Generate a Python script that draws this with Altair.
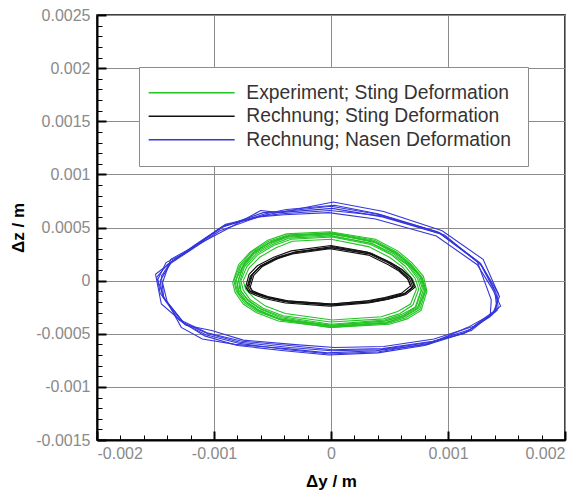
import altair as alt
import pandas as pd

# ---- data (values in mm, converted to m below) ----
SERIES = ["Experiment; Sting Deformation", "Rechnung; Sting Deformation", "Rechnung; Nasen Deformation"]
COLORS = ["#22c322", "#111111", "#3535dc"]

# Rechnung; Nasen Deformation (blue), several cycles
blue_x = [
    [-1.49,-1.40,-1.21,-0.92,-0.58,-0.41, 0.00, 0.42, 0.93, 1.27, 1.40, 1.42, 1.19, 0.85, 0.42, 0.00,-0.35,-0.78,-1.05,-1.26,-1.42],
    [-1.46,-1.36,-1.17,-0.90,-0.55,-0.35, 0.02, 0.45, 0.95, 1.30, 1.44, 1.38, 1.15, 0.80, 0.40,-0.02,-0.40,-0.80,-1.08,-1.30,-1.44],
    [-1.50,-1.43,-1.25,-0.95,-0.62,-0.40,-0.02, 0.38, 0.90, 1.25, 1.38, 1.45, 1.22, 0.88, 0.45, 0.03,-0.33,-0.75,-1.02,-1.24,-1.45],
    [-1.44,-1.37,-1.19,-0.88,-0.60,-0.44, 0.01, 0.44, 0.97, 1.29, 1.43, 1.40, 1.17, 0.83, 0.38,-0.03,-0.38,-0.82,-1.10,-1.28,-1.40],
    [-1.48,-1.41,-1.23,-0.94,-0.56,-0.38, 0.03, 0.40, 0.91, 1.25, 1.37, 1.36, 1.13, 0.87, 0.44, 0.01,-0.36,-0.76,-1.06,-1.27,-1.46],
    [-1.45,-1.38,-1.20,-0.91,-0.57,-0.42,-0.01, 0.43, 0.94, 1.28, 1.41, 1.43, 1.20, 0.84, 0.41,-0.01,-0.37,-0.79,-1.07,-1.25,-1.43],
]
blue_y = [
    [ 0.03, 0.15, 0.29, 0.51, 0.64, 0.65, 0.70, 0.62, 0.45, 0.17,-0.10,-0.28,-0.46,-0.58,-0.65,-0.66,-0.63,-0.58,-0.50,-0.40,-0.18],
    [ 0.00, 0.18, 0.33, 0.53, 0.62, 0.66, 0.74, 0.65, 0.47, 0.20,-0.15,-0.32,-0.49,-0.61,-0.68,-0.70,-0.66,-0.61,-0.52,-0.37,-0.15],
    [ 0.06, 0.12, 0.25, 0.47, 0.60, 0.62, 0.64, 0.58, 0.42, 0.15,-0.08,-0.24,-0.43,-0.55,-0.62,-0.63,-0.60,-0.56,-0.47,-0.42,-0.22],
    [-0.02, 0.20, 0.31, 0.49, 0.66, 0.64, 0.68, 0.60, 0.43, 0.14,-0.12,-0.30,-0.44,-0.60,-0.66,-0.68,-0.64,-0.60,-0.55,-0.44,-0.20],
    [ 0.01, 0.17, 0.27, 0.50, 0.63, 0.67, 0.71, 0.63, 0.46, 0.18,-0.18,-0.34,-0.50,-0.57,-0.64,-0.65,-0.61,-0.57,-0.49,-0.38,-0.12],
    [ 0.04, 0.16, 0.30, 0.52, 0.61, 0.63, 0.66, 0.61, 0.44, 0.16,-0.11,-0.26,-0.47,-0.59,-0.67,-0.69,-0.65,-0.59,-0.51,-0.41,-0.16],
]

# Experiment; Sting Deformation (green)
green_x = [
    [-0.82,-0.77,-0.67,-0.52,-0.36, 0.00, 0.36, 0.55, 0.67, 0.77, 0.80, 0.75, 0.63, 0.48, 0.00,-0.44,-0.62,-0.73,-0.80],
    [-0.77,-0.72,-0.63,-0.49,-0.34, 0.01, 0.34, 0.52, 0.63, 0.72, 0.75, 0.70, 0.59, 0.45, 0.00,-0.41,-0.58,-0.69,-0.75],
    [-0.84,-0.79,-0.69,-0.54,-0.38,-0.01, 0.38, 0.57, 0.69, 0.79, 0.82, 0.77, 0.65, 0.50, 0.01,-0.45,-0.64,-0.75,-0.82],
    [-0.79,-0.74,-0.65,-0.50,-0.35, 0.02, 0.37, 0.56, 0.68, 0.78, 0.81, 0.74, 0.61, 0.46,-0.01,-0.43,-0.60,-0.71,-0.78],
    [-0.80,-0.76,-0.66,-0.51,-0.37,-0.02, 0.35, 0.54, 0.66, 0.75, 0.78, 0.73, 0.62, 0.47, 0.02,-0.42,-0.61,-0.72,-0.79],
    [-0.75,-0.70,-0.61,-0.47,-0.33, 0.00, 0.32, 0.50, 0.61, 0.70, 0.73, 0.68, 0.57, 0.43, 0.01,-0.39,-0.56,-0.66,-0.73],
    [-0.83,-0.78,-0.68,-0.53,-0.37, 0.01, 0.37, 0.56, 0.68, 0.78, 0.81, 0.76, 0.64, 0.49, 0.00,-0.45,-0.63,-0.74,-0.81],
    [-0.78,-0.74,-0.64,-0.50,-0.36, 0.00, 0.35, 0.53, 0.65, 0.74, 0.77, 0.72, 0.60, 0.46, 0.00,-0.42,-0.59,-0.70,-0.77],
    [-0.81,-0.75,-0.66,-0.52,-0.35,-0.01, 0.36, 0.55, 0.66, 0.76, 0.79, 0.74, 0.62, 0.47,-0.01,-0.43,-0.61,-0.72,-0.79],
]
green_y = [
    [-0.01, 0.14, 0.26, 0.36, 0.42, 0.45, 0.37, 0.26, 0.16, 0.03,-0.09,-0.26,-0.34,-0.39,-0.43,-0.36,-0.28,-0.20,-0.10],
    [ 0.00, 0.13, 0.24, 0.33, 0.39, 0.41, 0.34, 0.24, 0.14, 0.02,-0.08,-0.23,-0.31,-0.36,-0.39,-0.33,-0.26,-0.18,-0.09],
    [-0.02, 0.15, 0.27, 0.38, 0.44, 0.46, 0.39, 0.28, 0.17, 0.04,-0.10,-0.28,-0.36,-0.41,-0.44,-0.38,-0.30,-0.22,-0.11],
    [ 0.01, 0.16, 0.28, 0.37, 0.43, 0.44, 0.36, 0.25, 0.15, 0.02,-0.10,-0.25,-0.33,-0.38,-0.42,-0.35,-0.27,-0.19,-0.08],
    [-0.03, 0.12, 0.25, 0.35, 0.41, 0.43, 0.35, 0.25, 0.15, 0.03,-0.07,-0.24,-0.33,-0.38,-0.42,-0.37,-0.29,-0.21,-0.12],
    [ 0.00, 0.12, 0.22, 0.31, 0.37, 0.39, 0.32, 0.22, 0.13, 0.01,-0.08,-0.22,-0.29,-0.34,-0.37,-0.31,-0.24,-0.16,-0.08],
    [ 0.00, 0.14, 0.27, 0.37, 0.43, 0.45, 0.38, 0.27, 0.16, 0.03,-0.09,-0.27,-0.35,-0.40,-0.43,-0.36,-0.29,-0.21,-0.10],
    [-0.01, 0.13, 0.25, 0.34, 0.40, 0.42, 0.35, 0.24, 0.15, 0.02,-0.09,-0.25,-0.32,-0.37,-0.41,-0.34,-0.27,-0.19,-0.10],
    [ 0.01, 0.15, 0.26, 0.36, 0.42, 0.44, 0.37, 0.27, 0.16, 0.04,-0.08,-0.26,-0.34,-0.40,-0.44,-0.37,-0.28,-0.20,-0.09],
]

# Rechnung; Sting Deformation (black)
black_x = [
    [-0.71,-0.68,-0.61,-0.47,-0.32, 0.00, 0.33, 0.50, 0.59, 0.67, 0.70, 0.62, 0.48, 0.33, 0.00,-0.38,-0.55,-0.63,-0.69],
    [-0.70,-0.67,-0.60,-0.46,-0.31, 0.01, 0.34, 0.51, 0.60, 0.68, 0.71, 0.63, 0.49, 0.34, 0.01,-0.37,-0.54,-0.62,-0.68],
    [-0.72,-0.69,-0.62,-0.48,-0.33,-0.01, 0.32, 0.49, 0.58, 0.66, 0.69, 0.61, 0.47, 0.32,-0.01,-0.39,-0.56,-0.64,-0.70],
    [-0.69,-0.66,-0.59,-0.45,-0.30, 0.02, 0.35, 0.52, 0.61, 0.69, 0.72, 0.64, 0.50, 0.35, 0.02,-0.36,-0.53,-0.61,-0.67],
    [-0.73,-0.70,-0.63,-0.49,-0.34, 0.00, 0.31, 0.48, 0.57, 0.65, 0.68, 0.60, 0.46, 0.31, 0.00,-0.40,-0.57,-0.65,-0.71],
]
black_y = [
    [-0.06, 0.05, 0.13, 0.21, 0.26, 0.31, 0.25, 0.16, 0.10, 0.02,-0.06,-0.13,-0.17,-0.20,-0.23,-0.20,-0.16,-0.13,-0.10],
    [-0.05, 0.06, 0.14, 0.22, 0.27, 0.32, 0.26, 0.17, 0.11, 0.03,-0.05,-0.12,-0.16,-0.19,-0.22,-0.19,-0.15,-0.12,-0.09],
    [-0.07, 0.04, 0.12, 0.20, 0.25, 0.30, 0.24, 0.15, 0.09, 0.01,-0.07,-0.14,-0.18,-0.21,-0.24,-0.21,-0.17,-0.14,-0.11],
    [-0.06, 0.05, 0.13, 0.21, 0.27, 0.31, 0.25, 0.16, 0.10, 0.02,-0.06,-0.13,-0.17,-0.20,-0.23,-0.20,-0.16,-0.13,-0.10],
    [-0.06, 0.06, 0.14, 0.22, 0.28, 0.33, 0.27, 0.18, 0.11, 0.03,-0.05,-0.12,-0.16,-0.19,-0.22,-0.19,-0.15,-0.12,-0.09],
]

X_TICKS = [-0.002, -0.001, 0, 0.001, 0.002]
Y_TICKS = [-0.0015, -0.001, -0.0005, 0, 0.0005, 0.001, 0.0015, 0.002, 0.0025]
X_MINOR = [i / 10000 for i in range(-20, 21, 2)]
Y_MINOR = [i / 10000 for i in range(-15, 26)]

# ---- build table ----
rows = []
cid = 0
for name, xs_all, ys_all in [
    (SERIES[2], blue_x, blue_y),
    (SERIES[0], green_x, green_y),
    (SERIES[1], black_x, black_y),
]:
    for xs, ys in zip(xs_all, ys_all):
        pts = list(zip(xs, ys)) + [(xs[0], ys[0])]
        for k, (a, b) in enumerate(pts):
            rows.append({"x": a / 1000, "y": b / 1000, "series": name, "cycle": cid, "k": k})
        cid += 1
df = pd.DataFrame(rows)

W, H = 468, 425
xscale = alt.Scale(domain=[-0.002, 0.002], nice=False, zero=False)
yscale = alt.Scale(domain=[-0.0015, 0.0025], nice=False, zero=False)

label_expr = "'' + datum.value"

lines = alt.Chart(df).mark_line(strokeWidth=1.1).encode(
    x=alt.X("x:Q", scale=xscale,
            axis=alt.Axis(values=X_TICKS, labelExpr=label_expr, title="\u0394y / m",
                          grid=True, tickSize=0, labelPadding=5, titlePadding=12)),
    y=alt.Y("y:Q", scale=yscale,
            axis=alt.Axis(values=Y_TICKS, labelExpr=label_expr, title="\u0394z / m",
                          grid=True, tickSize=0, labelPadding=7, titlePadding=8)),
    color=alt.Color("series:N",
                    scale=alt.Scale(domain=SERIES, range=COLORS),
                    sort=SERIES,
                    legend=alt.Legend(title=None, orient="none", legendX=42, legendY=52)),
    detail="cycle:N",
    order="k:Q",
)

major = alt.Chart(df).mark_point(opacity=0).encode(
    x=alt.X("x:Q", scale=xscale,
            axis=alt.Axis(orient="top", offset=-H, values=X_TICKS, labels=False, domain=False,
                          grid=False, title=None, tickSize=9, tickWidth=2, tickColor="#000")),
    y=alt.Y("y:Q", scale=yscale,
            axis=alt.Axis(orient="right", offset=-W, values=Y_TICKS, labels=False, domain=False,
                          grid=False, title=None, tickSize=9, tickWidth=2, tickColor="#000")),
)

minor = alt.Chart(df).mark_point(opacity=0).encode(
    x=alt.X("x:Q", scale=xscale,
            axis=alt.Axis(orient="top", offset=-H, values=X_MINOR, labels=False, domain=False,
                          grid=False, title=None, tickSize=5, tickWidth=1, tickColor="#000")),
    y=alt.Y("y:Q", scale=yscale,
            axis=alt.Axis(orient="right", offset=-W, values=Y_MINOR, labels=False, domain=False,
                          grid=False, title=None, tickSize=5, tickWidth=1, tickColor="#000")),
)

chart = alt.layer(lines, major, minor).resolve_axis(
    x="independent", y="independent"
).properties(
    width=W, height=H,
    autosize=alt.AutoSizeParams(type="none"),
    padding={"left": 97, "top": 15, "right": 20, "bottom": 52},
).configure_view(
    stroke="#000", strokeWidth=1.5
).configure_axis(
    labelFont="Liberation Sans", labelFontSize=16, labelColor="#8a8a8a",
    titleFont="Liberation Sans", titleFontSize=17, titleFontWeight="bold", titleColor="#000",
    gridColor="#8c8c8c", gridWidth=1, gridOpacity=1,
    domainColor="#000", domainWidth=2,
).configure_legend(
    strokeColor="#8c8c8c", fillColor="#ffffff", padding=16,
    symbolType="M0,0H17.2", symbolSize=100, symbolStrokeWidth=1.5, symbolOffset=-16,
    labelOffset=88, labelFont="Liberation Sans", labelFontSize=19.3, labelColor="#333333",
    rowPadding=3.5, labelLimit=400,
)

chart.save("out.html", embed_options={"renderer": "svg", "actions": False})
